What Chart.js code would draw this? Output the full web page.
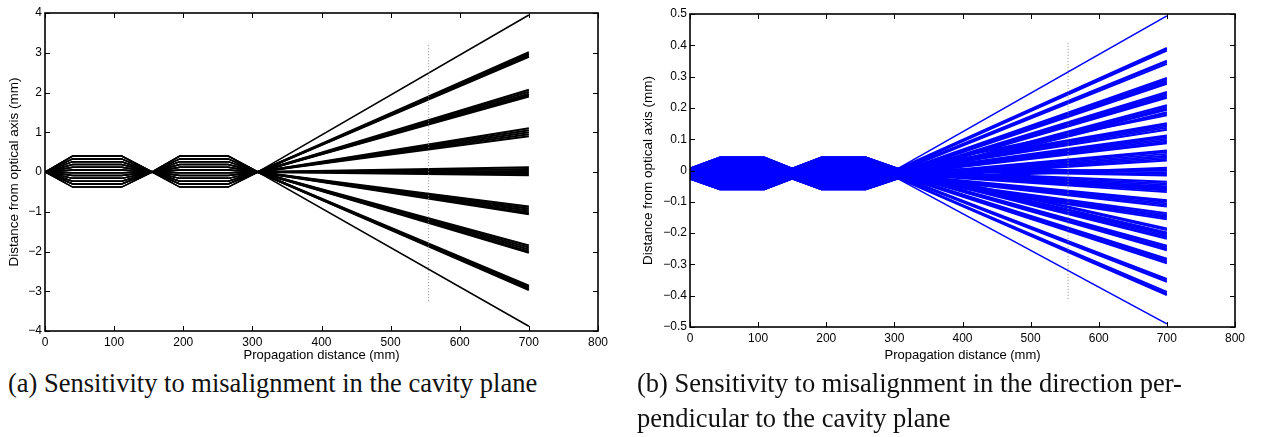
<!DOCTYPE html>
<html>
<head>
<meta charset="utf-8">
<script src="https://cdn.jsdelivr.net/npm/chart.js@4.4.1/dist/chart.umd.min.js"></script>
<style>
body { margin:0; background:#fff; width:1269px; height:437px; overflow:hidden; position:relative; }
#wrapA { position:absolute; left:0; top:0; }
#wrapB { position:absolute; left:634px; top:0; }
.cap { position:absolute; top:366px; font-family:"Liberation Serif","Times New Roman",serif; font-size:26.5px; line-height:35px; color:#111; white-space:nowrap; }
</style>
</head>
<body>
<div id="wrapA"><canvas id="chartA" width="640" height="365"></canvas></div>
<div id="wrapB"><canvas id="chartB" width="635" height="365"></canvas></div>
<div class="cap" style="left:8px">(a) Sensitivity to misalignment in the cavity plane</div>
<div class="cap" style="left:637px">(b) Sensitivity to misalignment in the direction per-<br>pendicular to the cavity plane</div>
<script>
// ray break points along the propagation axis (mm)
var pathXA = [0, 40, 111, 155, 195, 265, 308, 700];
var pathXB = [0, 44, 109, 150, 193, 258, 305, 700];

// (a) in-plane: beam heights inside the cavity and end points at 700 mm
var hexA = [0.40, 0.33, 0.26, 0.19, 0.12, 0.05, -0.02, -0.09, -0.16, -0.23, -0.30, -0.38];
var endA = [3.95,
  3.01, 2.97, 2.93, 2.90,
  2.07, 2.02, 1.97, 1.93, 1.90,
  1.10, 1.05, 1.00, 0.95, 0.90,
  0.12, 0.07, 0.02, -0.03, -0.08,
  -0.87, -0.92, -0.97, -1.02, -1.06,
  -1.85, -1.90, -1.95, -2.00, -2.03,
  -2.86, -2.90, -2.94, -2.97,
  -3.88];

// (b) perpendicular: heights inside the cavity, waist heights, end points
var hexB = [0.042, 0.037, 0.031, 0.027, 0.022, 0.016, 0.012, 0.007, 0.002, -0.004, -0.008,
  -0.013, -0.019, -0.023, -0.028, -0.034, -0.038, -0.043, -0.048, -0.053, -0.057, -0.060];
var waistB = [0.006, 0.005, 0.003, 0.001, 0.000, -0.002, -0.004, -0.005, -0.007, -0.008, -0.009,
  -0.011, -0.012, -0.014, -0.016, -0.017, -0.018, -0.020, -0.022, -0.023, -0.024, -0.026];
var endB = [0.494,
  0.392, 0.388, 0.383,
  0.351, 0.346, 0.341,
  0.296, 0.291, 0.286, 0.281, 0.277,
  0.251, 0.246, 0.241, 0.236, 0.232,
  0.209, 0.204, 0.199, 0.194,
  0.186, 0.181, 0.176,
  0.151, 0.146, 0.141, 0.136, 0.130,
  0.112, 0.107, 0.102, 0.097, 0.092, 0.087,
  0.064, 0.059, 0.053,
  0.047, 0.042, 0.037, 0.032,
  0.009, 0.004, -0.001, -0.006, -0.011, -0.016,
  -0.036, -0.041, -0.046, -0.051, -0.055,
  -0.059, -0.064, -0.069,
  -0.095, -0.100, -0.105, -0.110, -0.115,
  -0.136, -0.141, -0.146, -0.151, -0.156,
  -0.185, -0.190,
  -0.198, -0.203, -0.208, -0.213, -0.218,
  -0.240, -0.245, -0.250, -0.255,
  -0.282, -0.287, -0.292, -0.297,
  -0.346, -0.351, -0.356,
  -0.388, -0.393, -0.398,
  -0.490];

// dotted reference line
var markX = 555;
var markA = [-3.25, 3.25];
var markB = [-0.41, 0.41];

Chart.defaults.font.family = '"Liberation Sans", Arial, sans-serif';
Chart.defaults.color = '#000';

var boxPlugin = {
  id: 'box',
  afterDatasetsDraw: function (chart) {
    var ctx = chart.ctx, a = chart.chartArea;
    var xs = chart.scales.x, ys = chart.scales.y;
    ctx.save();
    ctx.strokeStyle = '#000';
    ctx.lineWidth = 1;
    ctx.beginPath();
    xs.ticks.forEach(function (t) {
      var px = Math.round(xs.getPixelForValue(t.value)) + 0.5;
      ctx.moveTo(px, a.bottom); ctx.lineTo(px, a.bottom - 5);
      ctx.moveTo(px, a.top); ctx.lineTo(px, a.top + 5);
    });
    ys.ticks.forEach(function (t) {
      var py = Math.round(ys.getPixelForValue(t.value)) + 0.5;
      ctx.moveTo(a.left, py); ctx.lineTo(a.left + 5, py);
      ctx.moveTo(a.right, py); ctx.lineTo(a.right - 5, py);
    });
    ctx.stroke();
    ctx.lineWidth = 1.6;
    ctx.strokeRect(a.left, a.top, a.right - a.left, a.bottom - a.top);
    ctx.restore();
  }
};

function fmtA(v) {
  return v < 0 ? '\u2212' + Math.abs(v) : String(v);
}
function fmtB(v) {
  if (Math.abs(v) < 1e-9) return '0';
  return (v < 0 ? '\u2212' : '') + Math.abs(v).toFixed(1);
}

function rayA(i) {
  var h = hexA[i % hexA.length];
  var ys = [0, h, h, 0, h, h, 0, endA[i]];
  return pathXA.map(function (x, k) { return { x: x, y: ys[k] }; });
}
function rayB(i) {
  var h = hexB[i % hexB.length], s = waistB[i % waistB.length];
  var ys = [s, h, h, s, h, h, s, endB[i]];
  return pathXB.map(function (x, k) { return { x: x, y: ys[k] }; });
}

function makeChart(id, opts) {
  var sets = [{
    data: opts.mark.map(function (y) { return { x: markX, y: y }; }),
    borderColor: '#8a8a8a', borderWidth: 1, borderDash: [1, 2]
  }];
  opts.ends.forEach(function (e, i) {
    var w = (i === 0 || i === opts.ends.length - 1) ? opts.lwEdge : opts.lw;
    sets.push({
      data: opts.ray(i), borderColor: opts.color, borderWidth: w,
      // thinner strokes inside the cavity, wider in the fan after the last waist
      segment: { borderWidth: function (c) { return c.p0DataIndex < 6 ? opts.lwCav : w; } }
    });
  });
  return new Chart(document.getElementById(id), {
    type: 'line',
    data: { datasets: sets },
    options: {
      responsive: false,
      animation: false,
      events: [],
      layout: { padding: { left: 0, top: opts.top, right: opts.right, bottom: 0 } },
      elements: { point: { radius: 0 }, line: { tension: 0, fill: false } },
      plugins: { legend: { display: false }, tooltip: { enabled: false } },
      scales: {
        x: {
          type: 'linear', min: 0, max: 800,
          grid: { display: false, drawTicks: false }, border: { display: false },
          ticks: { stepSize: 100, padding: 4, font: { size: 12 }, maxRotation: 0, autoSkip: false },
          title: { display: true, text: 'Propagation distance (mm)', font: { size: 13 }, padding: { top: 0, bottom: 2 } },
          afterFit: function (s) { s.height = opts.xh; }
        },
        y: {
          type: 'linear', min: opts.ymin, max: opts.ymax,
          grid: { display: false, drawTicks: false }, border: { display: false },
          ticks: { stepSize: opts.step, padding: 3, font: { size: 12 }, callback: opts.fmt, autoSkip: false },
          title: { display: true, text: 'Distance from optical axis (mm)', font: { size: 13.5 }, padding: { top: 6, bottom: 0 } },
          afterFit: function (s) { s.width = opts.yw; }
        }
      }
    },
    plugins: [boxPlugin]
  });
}

makeChart('chartA', {
  mark: markA, ends: endA, ray: rayA, color: '#000', lw: 2.2, lwEdge: 1.5, lwCav: 1.5,
  ymin: -4, ymax: 4, step: 1, fmt: fmtA,
  top: 13, right: 42, xh: 34, yw: 45
});
makeChart('chartB', {
  mark: markB, ends: endB, ray: rayB, color: '#0000ff', lw: 1.9, lwEdge: 1.6, lwCav: 1.9,
  ymin: -0.5, ymax: 0.5, step: 0.1, fmt: fmtB,
  top: 14, right: 34, xh: 38, yw: 56
});
</script>
</body>
</html>
